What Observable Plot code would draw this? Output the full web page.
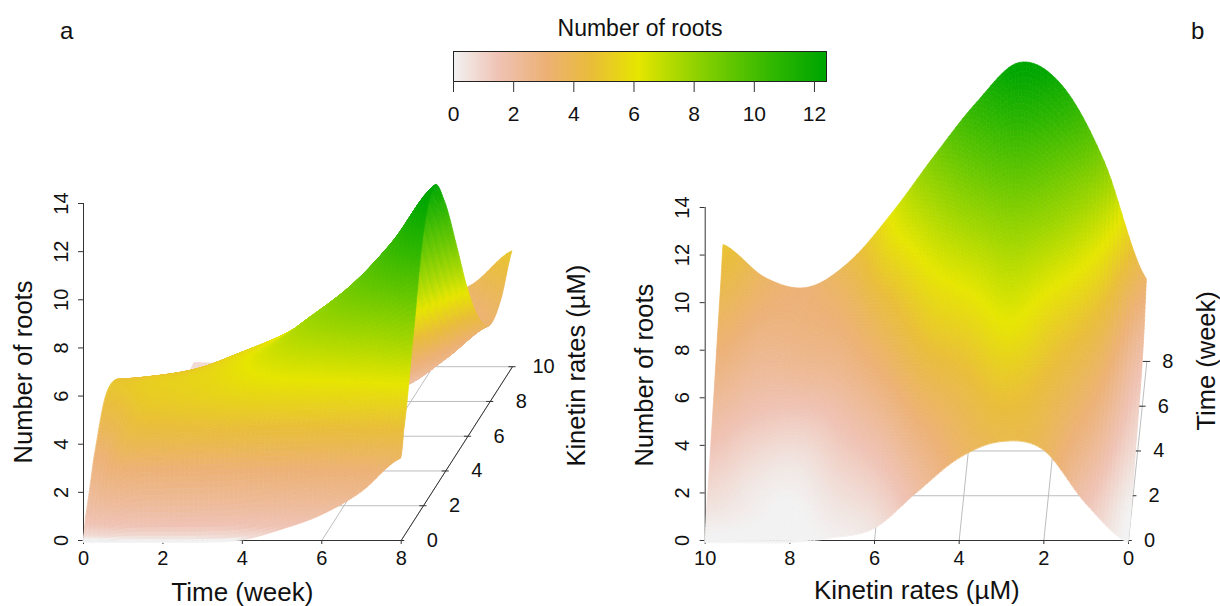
<!DOCTYPE html>
<html><head><meta charset="utf-8">
<script src="https://cdn.jsdelivr.net/npm/d3@7"></script>
<script src="https://cdn.jsdelivr.net/npm/@observablehq/plot@0.6"></script>
<style>
html,body{margin:0;padding:0;background:#fff}
#root{position:relative;width:1220px;height:606px;overflow:hidden;font-family:"Liberation Sans",Arial,sans-serif;color:#111}
#root svg{position:absolute;left:0;top:0;background:transparent;overflow:visible}
.tag{position:absolute;font-size:24px;line-height:28px}
</style></head><body><div id="root"></div>
<script>
const timeWeeks=[0,1,2,3,4,5,6,7,8];
const kinetinRowsA=[0,.25,1,2,3,4,5,6,7,8,9,10];
const kinetinRowsB=[0,1,2,3,4,5,6,7,8,9,10];
// number of roots: one row per kinetin rate, one column per week
const rootsPanelA=[
[-.1,-.1,-.1,-.1,0,.45,1.05,2,3.4],
[.8,3.4,3.8,3.9,4,4,4,4.1,4.3],
[2.7,4.5,4.9,5.2,5.6,5.95,6.2,6.6,7.2],
[4.45,5,5.2,5.55,6.3,7.4,8.4,9.6,11.2],
[4.5,4.65,4.9,5.45,6.1,7.2,8.5,10.3,12.55],
[3.45,3.8,4.25,4.9,5.6,6.4,7.2,8.5,11.1],
[2,2.4,2.9,3.4,3.9,4.3,4.9,5.8,8.65],
[.5,.8,1.2,1.6,2,2.2,2.5,3.9,6.1],
[0,.1,.3,.5,.7,1,1.5,2.6,4.2],
[-.1,-.1,0,0,.1,.3,.75,1.9,3.15],
[-.1,-.1,0,.1,.3,.6,1.1,2.2,3.5],
[.15,.15,.5,1,1.6,2.2,2.8,3.4,4.8]];
// number of roots
const rootsPanelB=[
[-.1,-.1,.2,.6,.9,1.2,1.6,2.3,3.45],
[1.55,2.1,2.7,3.2,3.8,4.5,5.5,6.8,8.4],
[3.8,4,4.3,4.8,5.4,6.4,7.7,9.2,11.6],
[4.15,4.6,5.2,6,6.7,7.5,8.7,10.4,12.55],
[3.45,3.8,4.25,4.9,5.7,6.6,7.8,9.3,10.9],
[2,2.5,3.2,4,4.9,5.6,6.5,7.5,8.65],
[.5,1,1.6,2.3,3.1,3.9,4.7,5.7,6.25],
[.1,.4,.8,1.3,1.9,2.6,3.1,3.6,4.2],
[-.1,-.1,.1,.45,1.2,2.2,2.75,3,3.1],
[-.1,.15,.35,.8,1.5,2.1,2.6,3.1,3.5],
[-.1,.55,1.1,1.7,2.3,2.95,3.6,4.2,4.9]];
const rootTicks=[0,2,4,6,8,10,12,14];
const timeTicks=[0,2,4,6,8];
const kinetinTicks=[0,2,4,6,8,10];
const legendTicks=[0,2,4,6,8,10,12];
const colorStops=[0,1.5375,3.075,4.6125,6.15,7.6875,9.225,10.7625,12.3];
const colorValues=["#F2F2F2","#EFC2B3","#ECB176","#E9BD3A","#E6E600","#A0D600","#63C600","#2DB600","#00A600"];

const color={type:"linear",domain:colorStops,range:colorValues,clamp:true};
const root=document.getElementById("root");
const style={fontFamily:"Liberation Sans",fontSize:"20px",color:"#111",background:"transparent"};
const ink="#333", gridInk="#bdbdbd", tickFont=20, titleFont=25.5;
// panel a shades its low values a little warmer than their height, as the reference does
const shadeA=d3.scaleLinear([0,.1,.54,1.58,2.8,12.55],[0,.7,1.5,2.3,3.1,12.55]).clamp(true);

function cr(a,b,c,d,u){return .5*(2*b+(c-a)*u+(2*a-5*b+4*c-d)*u*u+(3*b-3*c+d-a)*u*u*u)}
function sample(g,t,r){ // smooth reading of the table between its read values; r is a row position
  const ti=Math.min(Math.floor(t),timeWeeks.length-2),ri=Math.min(Math.floor(r),g.length-2);
  const u=t-ti,v=r-ri,row=n=>{const R=g[Math.max(0,Math.min(g.length-1,n))],c=i=>R[Math.max(0,Math.min(R.length-1,i))];return cr(c(ti-1),c(ti),c(ti+1),c(ti+2),u)};
  return cr(row(ri-1),row(ri),row(ri+1),row(ri+2),v);
}
function quads(g,ks,proj,order,Nt,Nr,shade){
  const rows=[],nt=8*Nt,nr=(g.length-1)*Nr;let id=0;
  const kAt=r=>{const i=Math.min(Math.floor(r),ks.length-2);return ks[i]+(ks[i+1]-ks[i])*(r-i)};
  const cell=(i,j)=>{const T=i/Nt,R=j/Nr,T2=(i+1)/Nt,R2=(j+1)/Nr;
    const p=[[T,R],[T2,R],[T,R2],[T2,R2]].map(([a,b])=>proj(a,kAt(b),sample(g,a,b)));
    const v=shade(sample(g,(T+T2)/2,(R+R2)/2));
    rows.push({id,v,x1:p[0][0],y1:p[0][1],x2:p[2][0],y2:p[2][1]},{id,v,x1:p[1][0],y1:p[1][1],x2:p[3][0],y2:p[3][1]});id++;};
  if(order==="k") for(let j=nr-1;j>=0;j--) for(let i=0;i<nt;i++) cell(i,j);
  else for(let i=nt-1;i>=0;i--) for(let j=0;j<nr;j++) cell(i,j);
  return rows;
}
const surface=rows=>Plot.area(rows,{x1:"x1",y1:"y1",x2:"x2",y2:"y2",z:"id",fill:"v",stroke:"v",strokeWidth:.7});

// panel a: time across, kinetin receding to the upper right
const projA=(t,k,z)=>[t+k*.2803,z+k*.722];
const A={
  floorK:kinetinTicks.map(k=>({a:projA(0,k,0),b:projA(8,k,0)})),
  floorT:timeTicks.map(t=>({a:projA(t,0,0),b:projA(t,10,0)}))
};
const seg=(arr,o)=>Plot.link(arr,{x1:d=>d.a[0],y1:d=>d.a[1],x2:d=>d.b[0],y2:d=>d.b[1],...o});
const plotA=Plot.plot({width:1220,height:606,marginLeft:83,marginRight:819.3,marginTop:203,marginBottom:66,style,
  x:{domain:[0,8]},y:{domain:[0,14]},color,
  marks:[
    seg(A.floorK,{stroke:gridInk}),seg(A.floorT,{stroke:gridInk}),
    Plot.ruleX([0],{y1:0,y2:14,stroke:ink}),Plot.ruleY([0],{x1:0,x2:8,stroke:ink}),
    seg([{a:projA(8,0,0),b:projA(8,10,0)}],{stroke:ink}),
    Plot.ruleY(kinetinTicks,{x1:k=>projA(8,k,0)[0]-.09,x2:k=>projA(8,k,0)[0]+.09,y:k=>projA(8,k,0)[1],stroke:ink}),
    Plot.text(kinetinTicks,{x:k=>projA(8,k,0)[0],y:k=>projA(8,k,0)[1],dx:31,text:d=>String(d),fontSize:tickFont,fill:"#111"}),
    Plot.axisX({ticks:timeTicks,tickSize:4,tickPadding:6,label:null,fontSize:tickFont,stroke:ink,tickFormat:d=>String(d)}),
    Plot.axisY({ticks:rootTicks,tickSize:5,tickPadding:11,tickRotate:-90,label:null,fontSize:tickFont,stroke:ink,tickFormat:d=>String(d)}),
    surface(quads(rootsPanelA,kinetinRowsA,projA,"k",8,20,d=>shadeA(d))),
    Plot.text(["Time (week)"],{x:()=>4,frameAnchor:"bottom",dy:52,lineAnchor:"middle",fontSize:titleFont+.5,fill:"#111"}),
    Plot.text(["Number of roots"],{y:()=>7,frameAnchor:"left",textAnchor:"middle",dx:-60,rotate:-90,fontSize:titleFont,fill:"#111"}),
    Plot.text(["Kinetin rates (µM)"],{x:()=>12.42,y:()=>7.26,rotate:-90,fontSize:titleFont,fill:"#111"})
  ]});
root.append(plotA);

// panel b: kinetin across (reversed), time receding
const projB=(t,k,z)=>[k-t*.0543,z+t*.941];
const B={
  floorK:kinetinTicks.map(k=>({a:projB(0,k,0),b:projB(8,k,0)})),
  floorT:timeTicks.map(t=>({a:projB(t,0,0),b:projB(t,10,0)}))
};
const plotB=Plot.plot({width:1220,height:606,marginLeft:704.7,marginRight:92,marginTop:207,marginBottom:66,style,
  x:{domain:[10,0]},y:{domain:[0,14]},color,
  marks:[
    seg(B.floorK,{stroke:gridInk}),seg(B.floorT,{stroke:gridInk}),
    Plot.ruleX([10],{y1:0,y2:14,stroke:ink}),Plot.ruleY([0],{x1:0,x2:10,stroke:ink}),
    Plot.ruleY(timeTicks,{x1:t=>projB(t,0,0)[0]+.09,x2:t=>projB(t,0,0)[0]-.09,y:t=>projB(t,0,0)[1],stroke:ink}),
    Plot.text(timeTicks,{x:t=>projB(t,0,0)[0],y:t=>projB(t,0,0)[1],dx:21,text:d=>String(d),fontSize:tickFont,fill:"#111"}),
    Plot.axisX({ticks:kinetinTicks,tickSize:4,tickPadding:6,label:null,fontSize:tickFont,stroke:ink,tickFormat:d=>String(d)}),
    Plot.axisY({ticks:rootTicks,tickSize:5,tickPadding:11,tickRotate:-90,label:null,fontSize:tickFont,stroke:ink,tickFormat:d=>String(d)}),
    surface(quads(rootsPanelB,kinetinRowsB,projB,"t",12,12,d=>d)),
    Plot.text(["Kinetin rates (µM)"],{x:()=>5,frameAnchor:"bottom",dy:50,lineAnchor:"middle",fontSize:titleFont+.5,fill:"#111"}),
    Plot.text(["Number of roots"],{y:()=>6.95,frameAnchor:"left",textAnchor:"middle",dx:-60,rotate:-90,fontSize:titleFont,fill:"#111"}),
    Plot.text(["Time (week)"],{x:()=>-1.85,y:()=>7.55,rotate:-90,fontSize:titleFont,fill:"#111"})
  ]});
root.append(plotB);

// colour key
const keySteps=d3.range(0,12.4,.02);
const plotKey=Plot.plot({width:1220,height:130,marginLeft:453,marginRight:394,marginTop:51,marginBottom:49,style,
  x:{domain:[0,12.4]},color,
  marks:[
    Plot.rect(keySteps,{x1:d=>d,x2:d=>Math.min(12.4,d+.1),fill:d=>d}),
    Plot.frame({stroke:"#222"}),
    Plot.axisX({ticks:legendTicks,tickSize:11,tickPadding:14,label:null,fontSize:21,stroke:"#333",tickFormat:d=>String(d)}),
    Plot.text(["Number of roots"],{x:()=>6.2,frameAnchor:"top",dy:-32,fontSize:23,fill:"#111"})
  ]});
root.append(plotKey);

for(const [t,x] of [["a",60],["b",1191]]){const d=document.createElement("div");d.className="tag";d.textContent=t;d.style.left=x+"px";d.style.top="17px";root.append(d);}
</script></body></html>
